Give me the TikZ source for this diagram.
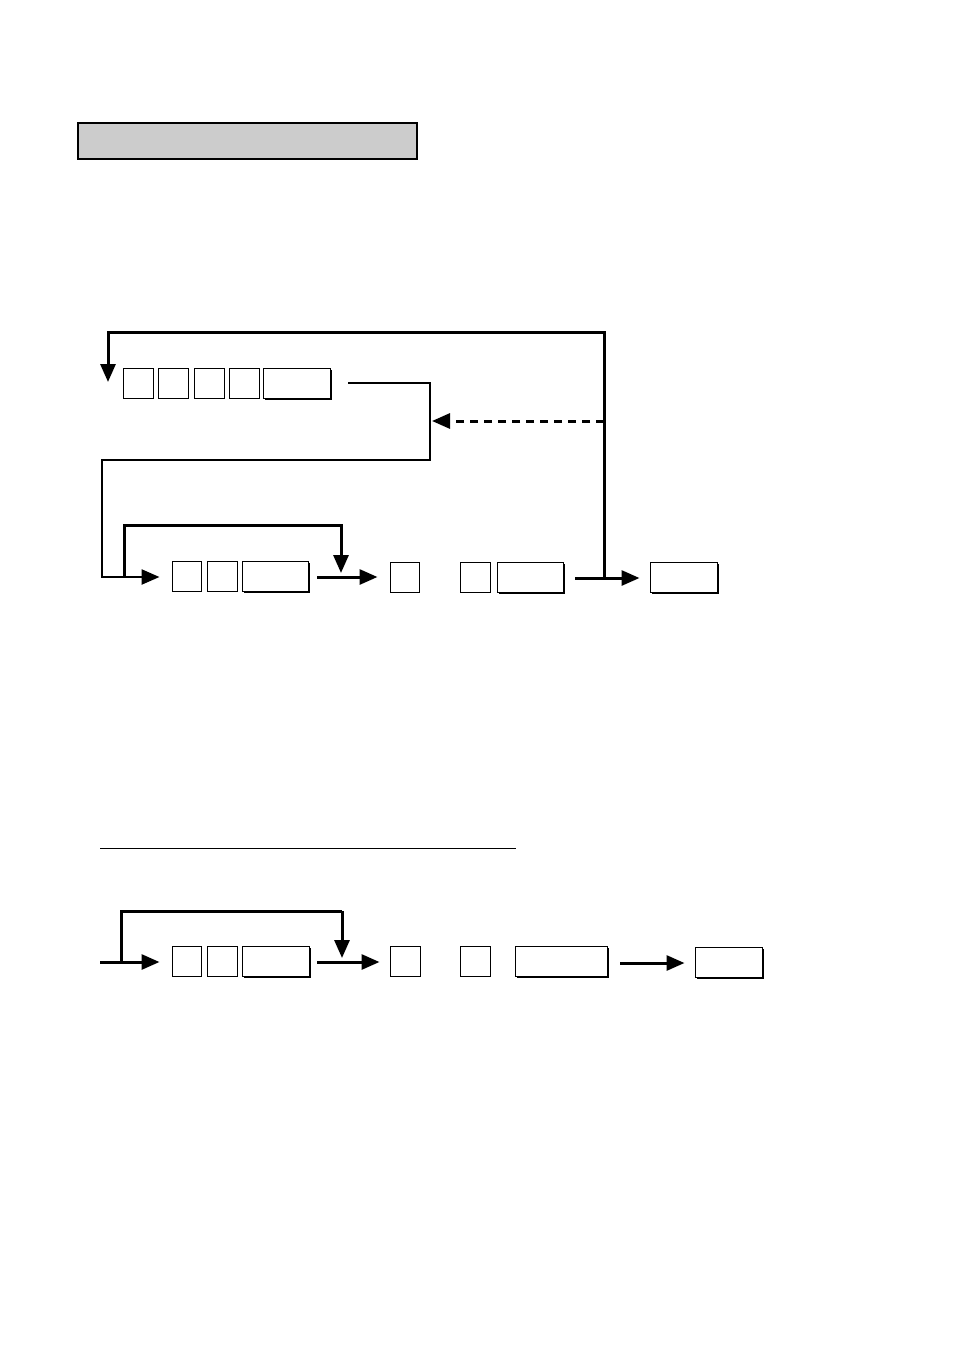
\documentclass[tikz,border=0pt]{standalone}
\usepackage{tikz}
\usepackage{xcolor}
\usetikzlibrary{arrows.meta,shadows}

\tikzset{
    key/.style={draw, line width=1pt, fill=white, inner sep=0pt, minimum height=30pt, minimum width=30pt},
    widekey/.style={key, minimum width=66pt, drop shadow={shadow xshift=2pt, shadow yshift=-2pt, fill=black, opacity=1}},
    conn/.style={line width=3pt, -{Triangle[length=18pt,width=15pt]}},
    wire/.style={line width=3pt}
}

\begin{document}
\begin{tikzpicture}[x=1pt,y=-1pt]
                \useasboundingbox (0,0) rectangle (954,1351);
                % Header bar
                \node[draw, line width=2pt, fill=black!20, minimum width=339pt, minimum height=36pt, inner sep=0pt] (title) at (247,141.5) {};

                % Row 1 keys
                \node[key] (ka) at (138,383) {};
                \node[key] (kb) at (173,383) {};
                \node[key] (kc) at (209,383) {};
                \node[key] (kd) at (244,383) {};
                \node[widekey, minimum width=67pt] (kent) at (296.5,383) {};

                % Row 2 keys
                \node[key, minimum width=29pt] (ma) at (186.5,576) {};
                \node[key] (mb) at (222,576) {};
                \node[widekey] (mnum) at (275,576) {};
                \node[key, minimum width=29pt] (mc) at (404.5,577) {};
                \node[key] (md) at (475,577) {};
                \node[widekey] (mamt) at (530,577) {};
                \node[widekey, minimum width=67pt] (mend) at (683.5,577) {};

                % Row 3 keys
                \node[key, minimum width=29pt] (na) at (186.5,961) {};
                \node[key] (nb) at (222,961) {};
                \node[widekey, minimum width=67pt] (nnum) at (275.5,961) {};
                \node[key] (nc) at (405,961) {};
                \node[key] (nd) at (475,961) {};
                \node[widekey, minimum width=92pt] (namt) at (561,961) {};
                \node[widekey, minimum width=67pt] (nend) at (728.5,962) {};

                % wire end points
                \coordinate (loopin) at (108,382);
                \coordinate (kout) at (348,383);
                \coordinate (knee) at (430,421);
                \coordinate (split) at (124,577);
                \coordinate (skip) at (341,573);
                \coordinate (mout) at (317,577);
                \coordinate (aout) at (575,578);
                \coordinate (back) at (604,578);
                \coordinate (dash) at (604,421);
                \coordinate (nin) at (100,962);
                \coordinate (nsplit) at (121,962);
                \coordinate (nskip) at (342,958);
                \coordinate (nout) at (317,962);
                \coordinate (aout3) at (620,963);

                % Row 1 wiring
                \draw[conn] (back) -- (604,332) -- (108,332) -- (loopin);
                \draw[line width=2.5pt, -{Triangle[length=18pt,width=15pt]}, shorten >=12pt] (kout) -- (430,383) -- (430,460) -- (102,460) -- (102,577) -- (split -| ma.west);
                \draw[conn, dashed, dash pattern=on 8pt off 6pt] (dash) -- ([xshift=2pt]knee);

                % Row 2 wiring
                \draw[conn] (split) -- (124,525) -- (341,525) -- (skip);
                \draw[conn, shorten >=12pt] (mout) -- (mout -| mc.west);
                \draw[conn, shorten >=10pt] (aout) -- (aout -| mend.west);

                % Underline
                \draw[line width=1pt] (100,848) -- (516,848);

                % Row 3 wiring
                \draw[conn, shorten >=12pt] (nin) -- (nin -| na.west);
                \draw[wire] (nsplit) -- (121,911) -- (342,911);
                \draw[conn] (342,911) -- (nskip);
                \draw[conn, shorten >=10pt] (nout) -- (nout -| nc.west);
                \draw[conn, shorten >=10pt] (aout3) -- (aout3 -| nend.west);
            \end{tikzpicture}
\end{document}
